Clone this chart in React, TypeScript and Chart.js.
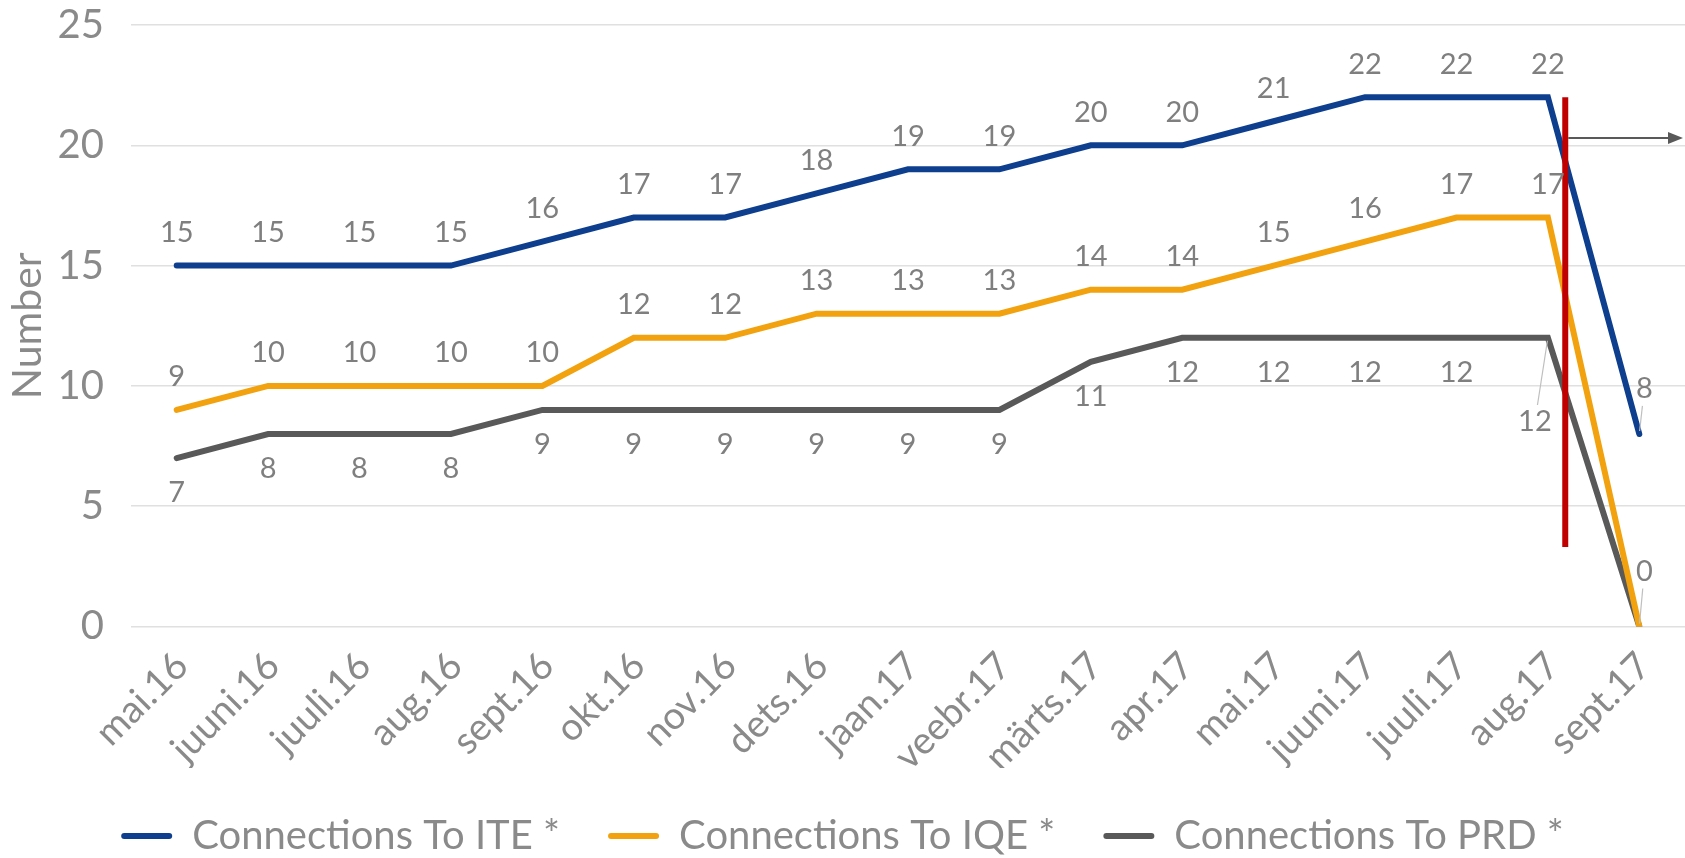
import React, { useEffect, useRef } from "react";
import { Chart, registerables } from "chart.js";

Chart.register(...registerables);

// ---------- data ----------
const categories = [
  "mai.16", "juuni.16", "juuli.16", "aug.16", "sept.16", "okt.16", "nov.16", "dets.16",
  "jaan.17", "veebr.17", "märts.17", "apr.17", "mai.17", "juuni.17", "juuli.17", "aug.17", "sept.17",
];
const iteValues = [15, 15, 15, 15, 16, 17, 17, 18, 19, 19, 20, 20, 21, 22, 22, 22, 8];
const iqeValues = [9, 10, 10, 10, 10, 12, 12, 13, 13, 13, 14, 14, 15, 16, 17, 17, 0];
const prdValues = [7, 8, 8, 8, 9, 9, 9, 9, 9, 9, 11, 12, 12, 12, 12, 12, 0];
const seriesNames = ["Connections To ITE *", "Connections To IQE *", "Connections To PRD *"];
const yAxisTitle = "Number";
const yMin = 0;
const yMax = 25;
const yStep = 5;

// vertical marker + arrow (in data units)
const markerIndex = 15.19;
const markerTop = 22;
const markerBottom = 3.3;
const arrowValue = 20.3;

// ---------- styles ----------
const FONT = "Lato, 'Open Sans', sans-serif";
const TEXT_GREY = "#8a8a8a";
const LABEL_GREY = "#7f7f7f";
const colors = ["#0e3f8e", "#f2a20e", "#595959"];
const labelSide = ["above", "above", "below"];
// special label placements: [datasetIndex, pointIndex, dx, dy, leader]
const labelOverrides: Array<[number, number, number, number, boolean]> = [
  [2, 15, -13, 84, true],
  [0, 16, 5, -45, true],
  [1, 16, 5, -55, true],
];
const hiddenLabels: Array<[number, number]> = [[2, 16]];

const labelPlugin = {
  id: "labelsAndMarker",
  afterDatasetsDraw(chart: any) {
    const ctx = chart.ctx as CanvasRenderingContext2D;
    const xs = chart.scales.x;
    const ys = chart.scales.y;
    ctx.save();

    // red vertical marker
    const mx = xs.getPixelForValue(markerIndex);
    ctx.strokeStyle = "#c00000";
    ctx.lineWidth = 6;
    ctx.beginPath();
    ctx.moveTo(mx, ys.getPixelForValue(markerTop));
    ctx.lineTo(mx, ys.getPixelForValue(markerBottom));
    ctx.stroke();

    // arrow
    const ay = ys.getPixelForValue(arrowValue);
    const ax0 = mx + 3;
    const ax1 = chart.chartArea.right - 2;
    ctx.strokeStyle = "#595959";
    ctx.fillStyle = "#595959";
    ctx.lineWidth = 2;
    ctx.beginPath();
    ctx.moveTo(ax0, ay);
    ctx.lineTo(ax1 - 12, ay);
    ctx.stroke();
    ctx.beginPath();
    ctx.moveTo(ax1, ay);
    ctx.lineTo(ax1 - 15, ay - 6);
    ctx.lineTo(ax1 - 15, ay + 6);
    ctx.closePath();
    ctx.fill();

    // data labels
    ctx.font = `29px ${FONT}`;
    ctx.textAlign = "center";
    ctx.textBaseline = "middle";
    chart.data.datasets.forEach((ds: any, di: number) => {
      const meta = chart.getDatasetMeta(di);
      meta.data.forEach((pt: any, i: number) => {
        if (hiddenLabels.some(([d, p]) => d === di && p === i)) return;
        const ov = labelOverrides.find(([d, p]) => d === di && p === i);
        let dx = 0;
        let dy = labelSide[di] === "above" ? -33 : 35;
        let leader = false;
        if (ov) {
          dx = ov[2];
          dy = ov[3];
          leader = ov[4];
        }
        const lx = pt.x + dx;
        const ly = pt.y + dy;
        if (leader) {
          const len = Math.hypot(dx, dy);
          const ux = -dx / len;
          const uy = -dy / len;
          ctx.strokeStyle = "#bfbfbf";
          ctx.lineWidth = 1.2;
          ctx.beginPath();
          ctx.moveTo(pt.x - ux * 3, pt.y - uy * 3);
          ctx.lineTo(lx + ux * 17, ly + uy * 17);
          ctx.stroke();
        }
        ctx.fillStyle = LABEL_GREY;
        ctx.fillText(String(ds.data[i]), lx, ly);
      });
    });
    ctx.restore();
  },
};

export default function App() {
  const canvasRef = useRef<HTMLCanvasElement | null>(null);

  useEffect(() => {
    if (!canvasRef.current) return;
    const seriesData = [iteValues, iqeValues, prdValues];
    const chart = new Chart(canvasRef.current, {
      type: "line",
      data: {
        labels: categories,
        datasets: seriesData.map((d, i) => ({
          label: seriesNames[i],
          data: d,
          borderColor: colors[i],
          backgroundColor: colors[i],
          borderWidth: 6,
          pointRadius: 0,
          tension: 0,
          borderCapStyle: "round" as const,
          borderJoinStyle: "miter" as const,
          fill: false,
        })),
      },
      options: {
        responsive: false,
        animation: false,
        layout: { padding: { top: 0, bottom: -8, left: 0, right: 0 } },
        plugins: {
          tooltip: { enabled: false },
          legend: {
            position: "bottom",
            labels: {
              font: { family: FONT, size: 40 },
              color: TEXT_GREY,
              boxWidth: 51,
              boxHeight: 6,
              padding: 48,
              useBorderRadius: true,
              borderRadius: 3,
              generateLabels: (c: any) =>
                Chart.defaults.plugins.legend.labels
                  .generateLabels(c)
                  .map((l: any) => ({ ...l, lineWidth: 0 })),
            },
          },
        },
        scales: {
          x: {
            offset: true,
            grid: { display: false },
            border: { display: false },
            ticks: {
              autoSkip: false,
              minRotation: 45,
              maxRotation: 45,
              font: { family: FONT, size: 38 },
              color: TEXT_GREY,
              padding: 9,
              labelOffset: 5,
            },
            afterFit: (s: any) => {
              s.height = 141.5;
            },
          },
          y: {
            min: yMin,
            max: yMax,
            grid: { color: "#e0e0e0", lineWidth: 1.5, drawTicks: false },
            border: { display: false },
            ticks: {
              stepSize: yStep,
              font: { family: FONT, size: 40 },
              color: TEXT_GREY,
              padding: 27,
            },
            title: {
              display: true,
              text: yAxisTitle,
              font: { family: FONT, size: 41 },
              color: TEXT_GREY,
              padding: { top: 3, bottom: 0 },
            },
            afterFit: (s: any) => {
              s.width = 131;
              s.paddingTop = 25;
              s.paddingBottom = 22;
            },
          },
        },
      },
      plugins: [labelPlugin],
    });
    return () => chart.destroy();
  }, []);

  return (
    <div style={{ position: "fixed", left: 0, top: 0, width: 1685, height: 858 }}>
      <canvas ref={canvasRef} width={1685} height={858} />
    </div>
  );
}
